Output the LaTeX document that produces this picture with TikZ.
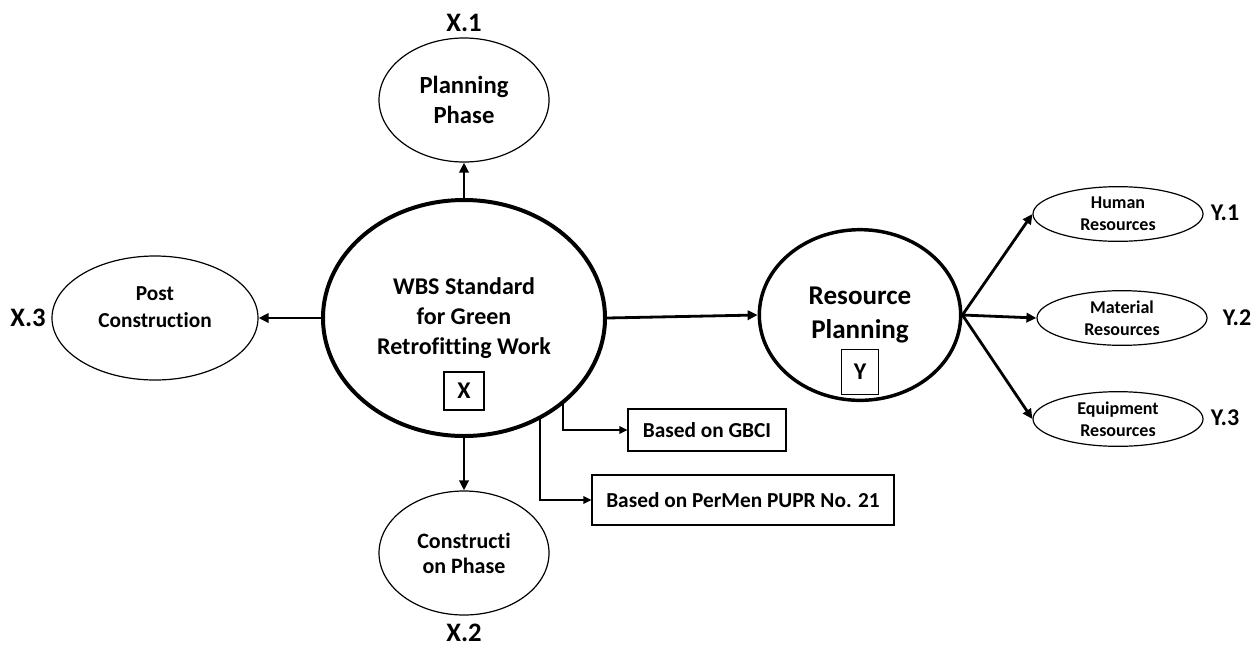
\documentclass[tikz,border=0pt]{standalone}
\usepackage{fontspec}
\setmainfont{Carlito}[Ligatures=NoCommon]
\usetikzlibrary{shapes.geometric,arrows.meta}
\begin{document}
\begin{tikzpicture}[x=0.75pt,y=-0.75pt,
  font=\bfseries,
  big/.style={ellipse,draw,line width=3pt,inner sep=0pt,align=center},
  mid/.style={ellipse,draw,line width=0.9pt,inner sep=0pt,align=center},
  small/.style={ellipse,draw,line width=0.9pt,inner sep=0pt,align=center,
    minimum width=127.5pt,minimum height=41pt,
    font=\bfseries\fontsize{13.5}{16.5}\selectfont},
  tag/.style={rectangle,draw,line width=0.8pt,inner sep=0pt},
  arr/.style={line width=2.1pt,-{Triangle[length=7.5pt,width=7pt]}},
  thinarr/.style={line width=1.5pt,-{Triangle[length=6pt,width=5.5pt]}},
  xlbl/.style={font=\bfseries\fontsize{20}{24}\selectfont},
  ylbl/.style={font=\bfseries\fontsize{18}{22}\selectfont}
]
\useasboundingbox (0,0) rectangle (1259,647);

% central WBS ellipse
\node[big,minimum width=211.5pt,minimum height=177pt,
  font=\bfseries\fontsize{18}{22.5}\selectfont] (X) at (464,318)
  {WBS Standard\\for Green\\Retrofitting Work};
\node[tag,minimum width=30pt,minimum height=28.5pt,
  font=\bfseries\fontsize{18}{22}\selectfont] (xbox) at (464,391) {X};

% X children
\node[mid,minimum width=127.5pt,minimum height=93pt,
  font=\bfseries\fontsize{18.5}{22.5}\selectfont] (plan) at (464,100)
  {Planning\\Phase};
\node[mid,minimum width=127.5pt,minimum height=93pt,
  font=\bfseries\fontsize{16.5}{18.75}\selectfont] (cons) at (464,553)
  {Constructi\\on Phase};
\node[mid,minimum width=154.5pt,minimum height=93pt] (post) at (155,318) {};
\node[align=center,font=\bfseries\fontsize{16}{20}\selectfont] (posttxt) at (155,307)
  {Post\\Construction};

\node[xlbl] (x1) at (464,23) {X.1};
\node[xlbl] (x2) at (464,633) {X.2};
\node[xlbl] (x3) at (28,318) {X.3};

% resource planning
\node[big,line width=2.6pt,minimum width=151pt,minimum height=128pt,
  font=\bfseries\fontsize{20.3}{25.5}\selectfont] (res) at (860,315)
  {Resource\\Planning};
\node[tag,minimum width=27.75pt,minimum height=33.75pt,
  font=\bfseries\fontsize{18}{22}\selectfont] (ybox) at (860,372) {Y};

\node[small] (hum) at (1118,214) {Human\\Resources};
\node[small] (mat) at (1122,318) {Material\\Resources};
\node[small] (eqp) at (1118,419) {Equipment\\Resources};

\node[ylbl] (y1) at (1225,213) {Y.1};
\node[ylbl] (y2) at (1237,318) {Y.2};
\node[ylbl] (y3) at (1225,418) {Y.3};

% boxes
\node[tag,minimum width=118.5pt,minimum height=31.5pt,
  font=\bfseries\fontsize{16}{20}\selectfont] (gbci) at (707,430) {Based on GBCI};
\node[tag,minimum width=226.5pt,minimum height=37.5pt,
  font=\bfseries\fontsize{16}{20}\selectfont] (pupr) at (743,500) {Based on PerMen PUPR No. 21};

% connectors
\draw[arr] (X.north) -- (plan.south);
\draw[arr] (X.south) -- (cons.north);
\draw[arr] (X.west) -- (post.east);
\draw[arr] (X.east) -- (res.west);
\draw[arr] (res.east) -- (hum.west);
\draw[arr] (res.east) -- (mat.west);
\draw[arr] (res.east) -- (eqp.west);
\draw[thinarr] (X.-41.3) |- (gbci.west);
\draw[thinarr] (X.-53.3) |- (pupr.west);
\end{tikzpicture}
\end{document}
